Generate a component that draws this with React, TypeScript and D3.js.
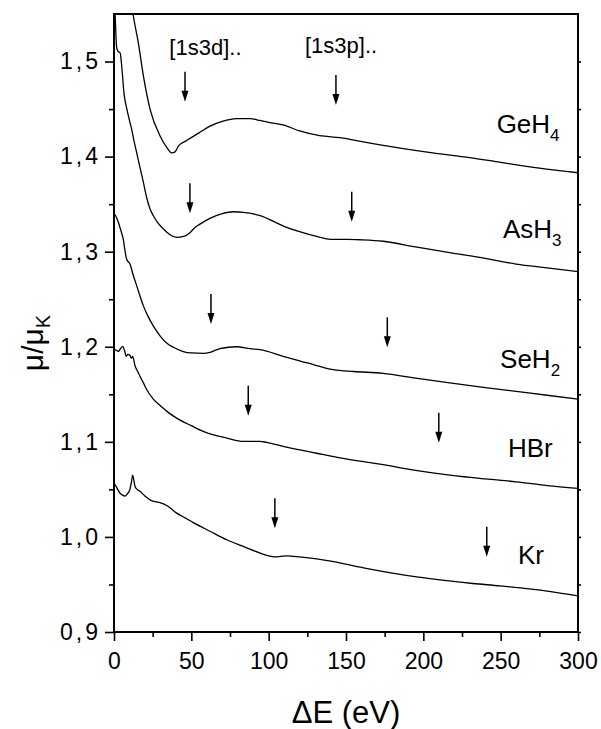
import React, { useRef, useEffect } from "react";
import * as d3 from "d3";

// spectra, [ΔE (eV), μ/μK]
const geh4 = [
  [11, 1.565], [12.3, 1.55], [15.7, 1.52], [19, 1.485], [23.3, 1.45], [29.7, 1.422], [34, 1.41],
  [37.3, 1.404], [39.5, 1.405], [41.6, 1.411], [47, 1.417], [55, 1.425], [62, 1.432], [70, 1.437],
  [79.3, 1.44], [88, 1.44], [94.4, 1.438], [100, 1.436], [110, 1.433], [120, 1.427], [133, 1.422],
  [146, 1.42], [163, 1.415], [185, 1.409], [206, 1.404], [230, 1.399], [250, 1.394], [275, 1.388],
  [300, 1.383],
];
const ash3 = [
  [0, 1.56], [0.6, 1.552], [1.7, 1.515], [2.5, 1.511], [4, 1.509], [5, 1.495], [6.5, 1.466],
  [8.2, 1.451], [10.3, 1.436], [11.4, 1.429], [13, 1.416], [14.7, 1.404], [17, 1.387], [19, 1.373],
  [21.1, 1.357], [23.3, 1.345], [25.4, 1.338], [28, 1.331], [31.9, 1.324], [36, 1.318], [40.5, 1.315],
  [45, 1.316], [49.1, 1.32], [52, 1.325], [55.6, 1.329], [62, 1.335], [70, 1.34], [77, 1.342],
  [85, 1.341], [94.4, 1.338], [109.5, 1.327], [120, 1.321], [131, 1.316], [140, 1.313], [150.4, 1.313],
  [160, 1.3125], [174, 1.311], [195, 1.305], [217, 1.299], [240, 1.293], [260, 1.287], [280, 1.283],
  [300, 1.279],
];
const seh2 = [
  [0, 1.34], [0.6, 1.339], [2.8, 1.331], [4.5, 1.322], [6, 1.313], [7.2, 1.3], [8.2, 1.292],
  [10.3, 1.287], [12.5, 1.275], [14.7, 1.264], [19, 1.243], [22, 1.232], [25.4, 1.222], [30, 1.211],
  [34, 1.204], [39, 1.199], [44.8, 1.195], [50, 1.1935], [57.7, 1.193], [62, 1.194], [65, 1.196],
  [68.5, 1.198], [74, 1.1995], [79.3, 1.2], [88, 1.198], [94.4, 1.197], [109.5, 1.19], [125, 1.183],
  [141.8, 1.176], [155, 1.174], [174, 1.172], [195, 1.167], [217, 1.162], [240, 1.157], [260, 1.153],
  [280, 1.149], [300, 1.145],
];
const hbr = [
  [0, 1.196], [0.6, 1.197], [2.8, 1.195], [4.2, 1.198], [5.6, 1.2005], [7, 1.195], [7.8, 1.19],
  [9, 1.192], [10.3, 1.191], [11.2, 1.188], [12.1, 1.19], [12.8, 1.186], [13.6, 1.18], [15, 1.175],
  [16.8, 1.169], [19, 1.162], [21.1, 1.155], [25.4, 1.145], [30, 1.138], [35, 1.131], [40.5, 1.125],
  [50, 1.117], [57.7, 1.111], [65, 1.107], [72.9, 1.104], [83.6, 1.1005], [94.4, 1.1005],
  [98.7, 1.0995], [110, 1.095], [131, 1.088], [150, 1.082], [174, 1.076], [195, 1.07], [217, 1.065],
  [240, 1.061], [260, 1.058], [280, 1.054], [300, 1.051],
];
const kr = [
  [0, 1.056], [0.6, 1.055], [3.9, 1.046], [5.5, 1.044], [7.1, 1.043], [8.5, 1.045], [10.3, 1.05],
  [11.3, 1.058], [12.1, 1.065], [12.8, 1.06], [13.6, 1.053], [15, 1.05], [16.8, 1.048], [20, 1.043],
  [23.3, 1.039], [26.5, 1.037], [29.7, 1.036], [35.1, 1.032], [40.5, 1.025], [46, 1.02], [51.3, 1.015],
  [62, 1.006], [72.9, 0.997], [83.6, 0.99], [94.4, 0.983], [100, 0.98], [104, 0.979], [108, 0.9795],
  [111.7, 0.98], [120, 0.979], [131, 0.977], [145, 0.973], [163, 0.967], [180, 0.962], [195.7, 0.958],
  [215, 0.954], [232, 0.951], [249.6, 0.9485], [270, 0.945], [300, 0.938],
];
const series = [geh4, ash3, seh2, hbr, kr];

// labels: [formula, subscript]
const species = [["GeH", "4"], ["AsH", "3"], ["SeH", "2"], ["HBr", ""], ["Kr", ""]];
const labelAt = [[247.4, 1.425], [251.5, 1.3144], [249.6, 1.1773], [254.7, 1.0844], [261.2, 0.971]];

// arrow tips for the [1s3d] and [1s3p] thresholds
const arrows3d = [[45.9, 1.4577], [49.1, 1.3404], [62.7, 1.2239], [86.8, 1.1275], [104, 1.0091]];
const arrows3p = [[143.5, 1.4543], [153.7, 1.3315], [176.7, 1.1994], [210, 1.0991], [241, 0.9792]];
const groupLabels = ["[1s3d]..", "[1s3p].."];
const groupAt = [[35.8, 1.507], [123.5, 1.509]];

const xTicks = [0, 50, 100, 150, 200, 250, 300];
const xMinor = [25, 75, 125, 175, 225, 275];
const yTicks = [0.9, 1.0, 1.1, 1.2, 1.3, 1.4, 1.5];
const yMinor = [0.95, 1.05, 1.15, 1.25, 1.35, 1.45];

const FONT = "'Liberation Sans', Arial, Helvetica, sans-serif";

const Chart = () => {
  const svgRef = useRef(null);

  useEffect(() => {
    const svg = d3.select(svgRef.current);
    svg.selectAll("*").remove();

    const margin = { top: 14, right: 23, bottom: 97, left: 114 };
    const width = 601 - margin.left - margin.right;
    const height = 729 - margin.top - margin.bottom;

    const x = d3.scaleLinear().domain([0, 300]).range([0, width]);
    const y = d3.scaleLinear().domain([0.9, 1.55]).range([height, 0]);

    const g = svg.append("g").attr("transform", `translate(${margin.left},${margin.top})`);

    svg.append("defs").append("clipPath").attr("id", "plot")
      .append("rect").attr("width", width).attr("height", height);

    // curves
    const line = d3.line().x((d) => x(d[0])).y((d) => y(d[1])).curve(d3.curveMonotoneX);
    g.append("g").attr("clip-path", "url(#plot)")
      .selectAll("path")
      .data(series)
      .join("path")
      .attr("d", line)
      .attr("fill", "none")
      .attr("stroke", "#000")
      .attr("stroke-width", 1.3);

    // axes
    const fmt = (d) => d3.format(".1f")(d).replace(".", ",");
    const left = g.append("g")
      .call(d3.axisLeft(y).tickValues(yTicks).tickSize(9).tickSizeOuter(0).tickPadding(4).tickFormat(fmt));
    g.append("g")
      .call(d3.axisLeft(y).tickValues(yMinor).tickSize(5).tickSizeOuter(0).tickFormat(() => ""));
    const bottom = g.append("g").attr("transform", `translate(0,${height})`)
      .call(d3.axisBottom(x).tickValues(xTicks).tickSize(9).tickSizeOuter(0).tickPadding(12));
    g.append("g").attr("transform", `translate(0,${height})`)
      .call(d3.axisBottom(x).tickValues(xMinor).tickSize(5).tickSizeOuter(0).tickFormat(() => ""));
    g.append("g").attr("transform", `translate(${width},0)`)
      .call(d3.axisRight(y).tickValues(yTicks.concat(yMinor)).tickSize(3).tickSizeOuter(0).tickFormat(() => ""));

    g.selectAll(".domain").remove();
    g.selectAll(".tick line").attr("stroke", "#000").attr("stroke-width", 1.6);
    left.selectAll("text").attr("font-size", 23).attr("font-family", FONT).attr("letter-spacing", 3).attr("fill", "#000");
    bottom.selectAll("text").attr("font-size", 23).attr("font-family", FONT).attr("fill", "#000");

    g.append("rect")
      .attr("width", width).attr("height", height)
      .attr("fill", "none").attr("stroke", "#000").attr("stroke-width", 2);

    // arrows
    const arrow = (p) => {
      const ax = x(p[0]);
      const ay = y(p[1]);
      g.append("line").attr("x1", ax).attr("x2", ax).attr("y1", ay - 30).attr("y2", ay - 8)
        .attr("stroke", "#000").attr("stroke-width", 1.5);
      g.append("path").attr("d", `M${ax - 3.5},${ay - 11}L${ax + 3.5},${ay - 11}L${ax},${ay}Z`).attr("fill", "#000");
    };
    arrows3d.forEach(arrow);
    arrows3p.forEach(arrow);

    groupLabels.forEach((t, i) => {
      g.append("text").attr("x", x(groupAt[i][0])).attr("y", y(groupAt[i][1]))
        .attr("font-size", 22).attr("font-family", FONT).text(t);
    });

    // species labels
    species.forEach((s, i) => {
      const t = g.append("text").attr("x", x(labelAt[i][0])).attr("y", y(labelAt[i][1]))
        .attr("font-size", 26).attr("font-family", FONT);
      t.append("tspan").text(s[0]);
      if (s[1]) t.append("tspan").attr("font-size", 17).attr("dy", 8).text(s[1]);
    });

    // axis titles
    svg.append("text")
      .attr("x", margin.left + width / 2).attr("y", 723)
      .attr("text-anchor", "middle").attr("font-size", 31).attr("font-family", FONT)
      .text("ΔE (eV)");

    const yt = svg.append("text")
      .attr("transform", "translate(43,343) rotate(-90)")
      .attr("text-anchor", "middle").attr("font-size", 30).attr("font-family", FONT);
    yt.append("tspan").text("μ/μ");
    yt.append("tspan").attr("font-size", 20).attr("dy", 7).text("K");
  }, []);

  return (
    <svg ref={svgRef} width="601" height="729"
      style={{ position: "absolute", left: 0, top: 0, background: "#fff" }} />
  );
};

export default function App() {
  return <Chart />;
}
